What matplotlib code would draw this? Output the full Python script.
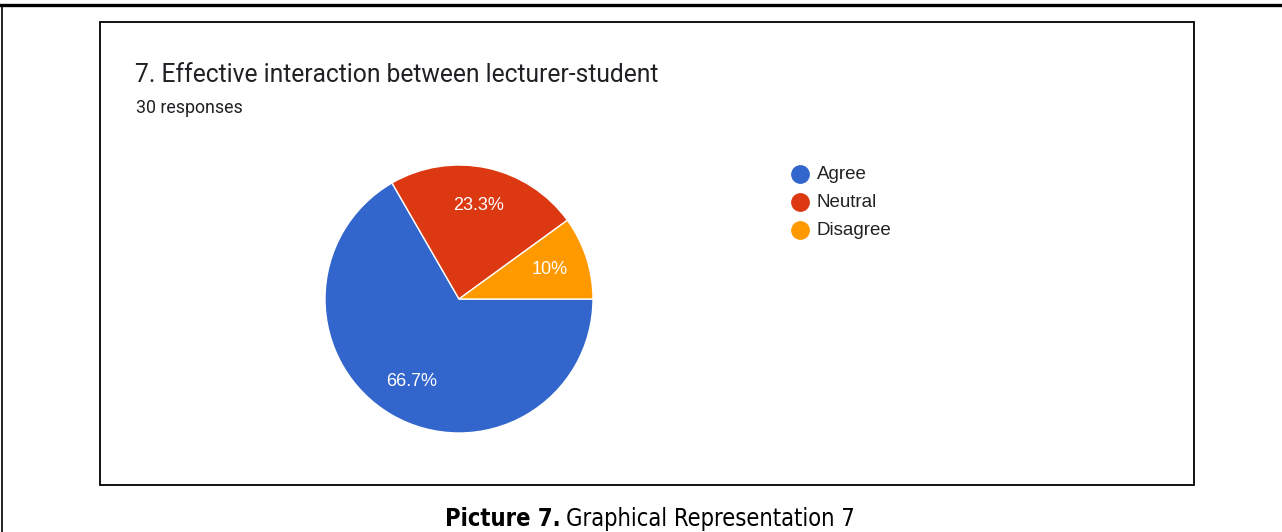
import matplotlib.pyplot as plt
from matplotlib.lines import Line2D
from matplotlib.patches import Rectangle

# dados do grafico
categorias = ["Agree", "Neutral", "Disagree"]
respostas = [20, 7, 3]
cores = ["#3366CC", "#DC3912", "#FF9900"]
titulo = "7. Effective interaction between lecturer-student"
subtitulo = "30 responses"
legenda_fig = ("Picture 7.", "Graphical Representation 7")

W, H = 1282, 532
fig = plt.figure(figsize=(W / 100, H / 100), dpi=100)
fig.patch.set_facecolor("white")


def fx(x):
    return x / W


def fy(y):
    return 1 - y / H


# moldura exterior (linha de cima e lado esquerdo)
fig.add_artist(Line2D([0, 1], [fy(5), fy(5)], color="black", lw=2.4))
fig.add_artist(Line2D([fx(2), fx(2)], [fy(5), 0], color="black", lw=1.2))

# caixa interior
fig.add_artist(Rectangle((fx(100), fy(485)), fx(1194) - fx(100), fy(22) - fy(485),
                         fill=False, ec="black", lw=1.3))

# pie
cx, cy, r = 459, 299, 134
ax = fig.add_axes([fx(cx - r), fy(cy + r), 2 * r / W, 2 * r / H])
ax.pie(respostas, colors=cores, startangle=0, counterclock=False,
       autopct=lambda p: f"{p:.1f}%".replace(".0%", "%"), pctdistance=0.71,
       wedgeprops=dict(edgecolor="white", linewidth=1),
       textprops=dict(color="white", fontsize=13, family="Liberation Sans"))
ax.set_xlim(-1, 1)
ax.set_ylim(-1, 1)
ax.axis("off")

# titulos
fig.text(fx(135), fy(75), titulo, fontsize=17.7, family="Roboto", color="#202124", va="center")
fig.text(fx(136), fy(108), subtitulo, fontsize=12.8, family="Roboto", color="#202124", va="center")

# legenda
for i, (cat, cor) in enumerate(zip(categorias, cores)):
    y = 174 + i * 28
    fig.add_artist(Line2D([fx(800)], [fy(y)], marker="o", markersize=12.5, color=cor, lw=0))
    fig.text(fx(817), fy(y + 0.5), cat, fontsize=13.5, family="Liberation Sans", color="#222222", va="center")

# legenda da figura, centrada a mao
fonte = dict(fontsize=17, family="DejaVu Sans", fontstretch="condensed", va="center")
t1 = fig.text(0, fy(519), legenda_fig[0], weight="bold", **fonte)
t2 = fig.text(0, fy(519), legenda_fig[1], **fonte)
fig.canvas.draw()
r = fig.canvas.get_renderer()
w1 = t1.get_window_extent(r).width
w2 = t2.get_window_extent(r).width
x0 = 650 - (w1 + 5 + w2) / 2
t1.set_x(fx(x0))
t2.set_x(fx(x0 + w1 + 5))

fig.savefig("out.png", dpi=100)
